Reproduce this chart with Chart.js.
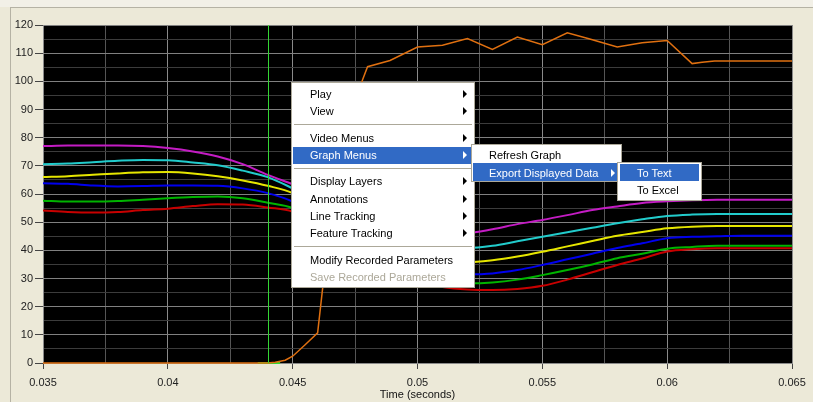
<!DOCTYPE html>
<html>
<head>
<meta charset="utf-8">
<title>Graph</title>
<script src="https://cdn.jsdelivr.net/npm/chart.js@4.4.0/dist/chart.umd.min.js"></script>
<style>
  body { margin: 0; background: #ece9d8; }
  #wrap { position: relative; width: 813px; height: 402px; overflow: hidden;
          font-family: "Liberation Sans", Arial, sans-serif; font-size: 11px; }
  #graph { position: absolute; left: 0; top: 0; }
</style>
</head>
<body>
<div id="wrap">
  <div style="position:absolute;left:0;top:0;width:813px;height:7px;background:#f2f0e7;"></div>
  <div style="position:absolute;left:10px;top:7px;width:803px;height:1px;background:#b5b2a4;"></div>
  <div style="position:absolute;left:10px;top:7px;width:1px;height:395px;background:#b5b2a4;"></div>
  <canvas id="graph" width="813" height="402"></canvas>
</div>
<script>
// time axis samples (seconds)
const times = [0.035, 0.036, 0.037, 0.038, 0.039, 0.040, 0.041, 0.042, 0.043, 0.044,
               0.045, 0.046, 0.047, 0.048, 0.049, 0.050, 0.051, 0.052, 0.053, 0.054,
               0.055, 0.056, 0.057, 0.058, 0.059, 0.060, 0.061, 0.062, 0.063, 0.064, 0.065];

const magenta = [77.0, 77.2, 77.2, 77.2, 77.0, 76.3, 75.1, 73.3, 70.6, 66.8, 63.5, 60.0, 56.0, 52.5, 49.5, 47.3,
                 46.2, 46.2, 47.5, 49.3, 50.8, 52.5, 54.3, 55.6, 56.8, 57.4, 57.8, 58.0, 58.0, 58.0, 58.0];
const cyan    = [70.6, 70.8, 71.3, 71.8, 72.1, 72.0, 71.2, 70.2, 68.3, 66.0, 62.0, 57.5, 53.0, 49.0, 45.5, 42.8,
                 41.2, 40.8, 41.6, 43.2, 44.8, 46.4, 48.0, 49.6, 51.0, 52.2, 52.7, 52.9, 52.9, 52.9, 52.9];
const yellow  = [66.0, 66.3, 66.8, 67.3, 67.7, 67.8, 67.3, 66.3, 64.8, 62.9, 60.3, 55.0, 49.5, 44.5, 40.5, 37.5,
                 36.0, 35.8, 36.5, 37.8, 39.5, 41.4, 43.3, 45.2, 46.5, 47.8, 48.4, 48.6, 48.6, 48.6, 48.6];
const blue    = [63.8, 63.6, 63.0, 62.7, 62.8, 63.0, 63.0, 62.9, 62.0, 60.3, 57.3, 52.0, 46.5, 41.5, 37.0, 33.8,
                 32.0, 31.5, 31.8, 33.0, 34.8, 36.8, 38.8, 40.8, 42.5, 44.3, 44.8, 45.0, 45.2, 45.2, 45.2];
const green   = [57.6, 57.3, 57.3, 57.5, 58.0, 58.5, 58.9, 59.1, 58.5, 56.9, 55.0, 49.5, 43.5, 38.0, 33.5, 30.5,
                 28.8, 28.3, 28.6, 29.6, 31.2, 33.0, 35.0, 37.2, 38.8, 40.6, 41.2, 41.6, 41.6, 41.6, 41.6];
const red     = [54.1, 53.6, 53.4, 53.6, 54.3, 54.8, 55.7, 56.4, 56.3, 55.2, 53.7, 48.5, 42.5, 37.0, 32.5, 29.0,
                 27.0, 26.1, 25.9, 26.3, 27.4, 29.6, 32.2, 34.8, 37.1, 39.6, 40.4, 40.7, 40.7, 40.7, 40.7];

// orange trace has its own sample times
const orangeTimes = [0.035, 0.0440, 0.0443, 0.0447, 0.0450, 0.0455, 0.0460, 0.0462, 0.0467, 0.0472, 0.0478, 0.0480,
                     0.0489, 0.0500, 0.0510, 0.0520, 0.0530, 0.0540, 0.0550, 0.0560, 0.0569, 0.0580, 0.0590, 0.0600,
                     0.0610, 0.0614, 0.0619, 0.065];
const orangeVals  = [0, 0, 0.3, 1.0, 2.4, 6.5, 10.7, 26.5, 60, 85, 100.6, 105.2,
                     107.4, 112.2, 112.8, 115.2, 111.3, 115.7, 113.0, 117.2, 115.0, 112.2, 113.7, 114.5,
                     106.3, 106.8, 107.2, 107.2];

// cursor position and its little marker on the zero line
const cursorTime = 0.044;
const markerTimes = [0.0436, 0.0445];
const markerVals = [0, 0];

const FONT = '"Liberation Sans", Arial, sans-serif';

function pts(xs, ys) {
    return xs.map(function (x, i) { return { x: x, y: ys[i] }; });
}

function curve(vals, color) {
    return {
        data: pts(times, vals),
        borderColor: color,
        borderWidth: 2,
        pointRadius: 0,
        cubicInterpolationMode: 'monotone'
    };
}

// black plot background + green cursor line
const plotBits = {
    id: 'plotBits',
    beforeDraw: function (chart) {
        const a = chart.chartArea;
        const ctx = chart.ctx;
        ctx.save();
        ctx.fillStyle = '#000';
        ctx.fillRect(a.left, a.top, a.right - a.left, a.bottom - a.top);
        ctx.restore();
    },
    afterDatasetsDraw: function (chart) {
        const a = chart.chartArea;
        const ctx = chart.ctx;
        const x = Math.round(chart.scales.x.getPixelForValue(cursorTime)) + 0.5;
        ctx.save();
        ctx.strokeStyle = '#33d633';
        ctx.lineWidth = 1;
        ctx.beginPath();
        ctx.moveTo(x, a.top);
        ctx.lineTo(x, a.bottom);
        ctx.stroke();
        ctx.restore();
    }
};

new Chart(document.getElementById('graph'), {
    type: 'line',
    data: {
        datasets: [
            curve(magenta, '#c41cc4'),
            curve(cyan, '#22cccc'),
            curve(yellow, '#e6e600'),
            curve(blue, '#0000ee'),
            curve(green, '#00b400'),
            curve(red, '#c80000'),
            {
                data: pts(orangeTimes, orangeVals),
                borderColor: '#e07010',
                borderWidth: 1.5,
                pointRadius: 0,
                tension: 0,
                clip: 4
            },
            {
                data: pts(markerTimes, markerVals),
                borderColor: '#33d633',
                borderWidth: 2,
                pointRadius: 0,
                clip: 4
            }
        ]
    },
    options: {
        responsive: false,
        animation: false,
        layout: { padding: { left: 0, top: 25, right: 21, bottom: 0 } },
        plugins: { legend: { display: false }, tooltip: { enabled: false } },
        scales: {
            x: {
                type: 'linear',
                min: 0.035,
                max: 0.065,
                ticks: {
                    stepSize: 0.0025,
                    autoSkip: false,
                    maxRotation: 0,
                    padding: 7,
                    color: '#222',
                    font: { family: FONT, size: 11 },
                    callback: function (v, i) { return i % 2 === 0 ? String(parseFloat(v.toFixed(4))) : ''; }
                },
                grid: {
                    color: function (c) { return c.index % 2 === 0 ? '#8a8a8a' : '#555'; },
                    tickColor: function (c) { return c.index % 2 === 0 ? '#444' : 'rgba(0,0,0,0)'; },
                    tickLength: 6
                },
                border: { color: '#8a8a8a' },
                title: {
                    display: true,
                    text: 'Time (seconds)',
                    color: '#111',
                    font: { family: FONT, size: 11 },
                    padding: { top: 0, bottom: 0 }
                },
                afterFit: function (s) { s.height = 39; }
            },
            y: {
                min: 0,
                max: 120,
                ticks: {
                    stepSize: 5,
                    autoSkip: false,
                    padding: 2,
                    color: '#222',
                    font: { family: FONT, size: 11 },
                    callback: function (v, i) { return i % 2 === 0 ? String(v) : ''; }
                },
                grid: {
                    color: function (c) { return c.index % 2 === 0 ? '#808080' : '#3c3c3c'; },
                    tickColor: function (c) { return c.index % 2 === 0 ? '#444' : 'rgba(0,0,0,0)'; },
                    tickLength: 8
                },
                border: { color: '#8a8a8a' },
                afterFit: function (s) { s.width = 43; }
            }
        }
    },
    plugins: [plotBits]
});

// ---- context menu overlay ----
const wrap = document.getElementById('wrap');
const HILITE = '#316ac5';
const GREY = '#aca899';

function box(x, y, w, h, style) {
    const d = document.createElement('div');
    d.style.cssText = 'position:absolute;left:' + x + 'px;top:' + y + 'px;width:' + w + 'px;height:' + h + 'px;' + (style || '');
    wrap.appendChild(d);
    return d;
}
function label(text, x, cy, color) {
    const d = box(x, Math.round(cy - 8), 220, 16, 'line-height:16px;white-space:nowrap;color:' + color + ';');
    d.textContent = text;
}
function arrow(x, cy, color) {
    box(x, Math.round(cy - 4), 0, 0, 'border-left:4px solid ' + color + ';border-top:4px solid transparent;border-bottom:4px solid transparent;');
}

// main menu
box(291, 82, 184, 206, 'background:#fff;border:1px solid ' + GREY + ';box-sizing:border-box;');
box(293, 147, 180, 17, 'background:' + HILITE + ';');
[124, 168, 246].forEach(function (y) { box(294, y, 178, 1, 'background:' + GREY + ';'); });
const mainItems = [
    ['Play', 93.5, true], ['View', 111, true], ['Video Menus', 137.5, true], ['Graph Menus', 155, true],
    ['Display Layers', 181, true], ['Annotations', 198.5, true], ['Line Tracking', 216, true],
    ['Feature Tracking', 233, true], ['Modify Recorded Parameters', 259.5, false], ['Save Recorded Parameters', 277, false]
];
mainItems.forEach(function (it) {
    const on = it[0] === 'Graph Menus';
    const col = on ? '#fff' : (it[0] === 'Save Recorded Parameters' ? GREY : '#000');
    label(it[0], 310, it[1], col);
    if (it[2]) arrow(463, it[1], on ? '#fff' : '#000');
});

// Graph Menus submenu
box(471, 144, 151, 38, 'background:#fff;border:1px solid ' + GREY + ';box-sizing:border-box;');
box(473, 163, 146, 18, 'background:' + HILITE + ';');
label('Refresh Graph', 489, 155, '#000');
label('Export Displayed Data', 489, 172.5, '#fff');
arrow(611, 172.5, '#fff');

// Export submenu
box(617, 162, 85, 39, 'background:#fff;border:1px solid ' + GREY + ';box-sizing:border-box;');
box(620, 164, 79, 17, 'background:' + HILITE + ';');
label('To Text', 637, 172.5, '#fff');
label('To Excel', 637, 189.5, '#000');
</script>
</body>
</html>
